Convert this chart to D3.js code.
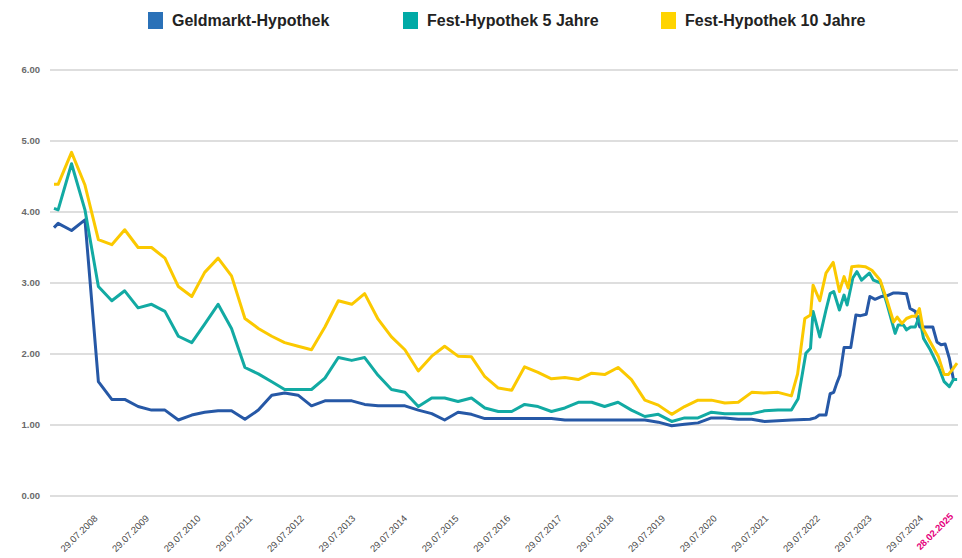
<!DOCTYPE html>
<html>
<head>
<meta charset="utf-8">
<script src="https://cdn.jsdelivr.net/npm/d3@7"></script>
<style>
  html, body { margin: 0; padding: 0; background: #fff; }
  svg { display: block; }
</style>
</head>
<body>
<svg id="chart" width="962" height="558"></svg>
<script>
// ---- DATA ----
const seriesNames = ["Geldmarkt-Hypothek", "Fest-Hypothek 5 Jahre", "Fest-Hypothek 10 Jahre"];
const yTickValues = [0, 1, 2, 3, 4, 5, 6];
const xTickLabels = ["29.07.2008","29.07.2009","29.07.2010","29.07.2011","29.07.2012","29.07.2013",
  "29.07.2014","29.07.2015","29.07.2016","29.07.2017","29.07.2018","29.07.2019","29.07.2020",
  "29.07.2021","29.07.2022","29.07.2023","29.07.2024","28.02.2025"];

// decimal years (quarterly observations until end of 2021)
const quarterYears = [2007.66, 2007.74, 2008.00, 2008.26, 2008.52, 2008.78, 2009.03, 2009.29, 2009.55, 2009.81,
  2010.07, 2010.33, 2010.58, 2010.84, 2011.10, 2011.36, 2011.62, 2011.88, 2012.13, 2012.39, 2012.65, 2012.91,
  2013.17, 2013.43, 2013.68, 2013.94, 2014.20, 2014.46, 2014.72, 2014.98, 2015.23, 2015.49, 2015.75, 2016.01,
  2016.27, 2016.53, 2016.78, 2017.04, 2017.30, 2017.56, 2017.82, 2018.08, 2018.33, 2018.59, 2018.85, 2019.11,
  2019.37, 2019.63, 2019.88, 2020.14, 2020.40, 2020.66, 2020.92, 2021.18, 2021.43, 2021.69, 2021.95];

const geldQuarter = [3.78, 3.84, 3.74, 3.89, 1.61, 1.36, 1.36, 1.26, 1.21, 1.21, 1.07, 1.14, 1.18, 1.20, 1.20,
  1.08, 1.21, 1.42, 1.45, 1.42, 1.27, 1.34, 1.34, 1.34, 1.29, 1.27, 1.27, 1.27, 1.21, 1.16, 1.07, 1.18, 1.15,
  1.09, 1.09, 1.09, 1.09, 1.09, 1.09, 1.07, 1.07, 1.07, 1.07, 1.07, 1.07, 1.07, 1.04, 0.99, 1.01, 1.03, 1.10,
  1.10, 1.08, 1.08, 1.05, 1.06, 1.07];
const fest5Quarter = [4.05, 4.03, 4.68, 4.03, 2.95, 2.75, 2.89, 2.65, 2.70, 2.60, 2.25, 2.16, 2.42, 2.70, 2.36,
  1.81, 1.72, 1.61, 1.50, 1.50, 1.50, 1.66, 1.95, 1.91, 1.95, 1.70, 1.50, 1.46, 1.26, 1.38, 1.38, 1.33, 1.38,
  1.24, 1.19, 1.19, 1.29, 1.26, 1.19, 1.24, 1.32, 1.32, 1.26, 1.32, 1.21, 1.12, 1.15, 1.05, 1.10, 1.10, 1.18,
  1.16, 1.16, 1.16, 1.20, 1.21, 1.21];
const fest10Quarter = [4.39, 4.39, 4.84, 4.38, 3.61, 3.54, 3.75, 3.50, 3.50, 3.35, 2.95, 2.81, 3.15, 3.35, 3.10,
  2.50, 2.36, 2.25, 2.16, 2.11, 2.06, 2.38, 2.75, 2.70, 2.85, 2.49, 2.24, 2.06, 1.76, 1.97, 2.11, 1.97, 1.96,
  1.68, 1.52, 1.49, 1.82, 1.74, 1.65, 1.67, 1.64, 1.73, 1.71, 1.81, 1.64, 1.35, 1.28, 1.15, 1.26, 1.35, 1.35,
  1.31, 1.32, 1.46, 1.45, 1.46, 1.41];

// denser observations from 2022 on: [decimal year, rate]
const geldRecent = [[2022.31,1.08],[2022.41,1.10],[2022.49,1.14],[2022.62,1.14],[2022.70,1.44],[2022.77,1.46],
  [2022.83,1.59],[2022.89,1.70],[2022.97,2.09],[2023.10,2.09],[2023.20,2.55],[2023.29,2.54],[2023.40,2.56],
  [2023.47,2.81],[2023.57,2.77],[2023.70,2.81],[2023.80,2.82],[2023.93,2.86],[2024.02,2.86],[2024.18,2.85],
  [2024.25,2.64],[2024.35,2.60],[2024.44,2.38],[2024.57,2.38],[2024.69,2.38],[2024.77,2.17],[2024.85,2.13],
  [2024.93,2.14],[2025.01,1.94],[2025.09,1.64],[2025.16,1.64]];
const fest5Recent = [[2022.08,1.37],[2022.23,2.01],[2022.32,2.08],[2022.37,2.60],[2022.50,2.24],[2022.62,2.62],
  [2022.70,2.85],[2022.77,2.88],[2022.88,2.62],[2022.97,2.83],[2023.03,2.69],[2023.14,3.07],[2023.22,3.16],
  [2023.31,3.04],[2023.46,3.14],[2023.54,3.04],[2023.68,3.00],[2023.80,2.71],[2023.96,2.29],[2024.02,2.41],
  [2024.12,2.41],[2024.18,2.34],[2024.26,2.38],[2024.35,2.38],[2024.43,2.53],[2024.51,2.22],[2024.64,2.06],
  [2024.80,1.82],[2024.91,1.61],[2025.01,1.54],[2025.09,1.64],[2025.16,1.64]];
const fest10Recent = [[2022.07,1.72],[2022.21,2.50],[2022.32,2.55],[2022.37,2.97],[2022.50,2.75],[2022.62,3.14],
  [2022.76,3.29],[2022.88,2.88],[2022.97,3.09],[2023.05,2.93],[2023.12,3.23],[2023.25,3.24],[2023.38,3.23],
  [2023.51,3.18],[2023.67,3.04],[2023.80,2.76],[2023.93,2.45],[2024.00,2.52],[2024.09,2.43],[2024.18,2.50],
  [2024.28,2.53],[2024.36,2.53],[2024.43,2.64],[2024.50,2.36],[2024.64,2.17],[2024.80,1.96],[2024.91,1.71],
  [2024.99,1.71],[2025.09,1.80],[2025.16,1.87]];

const lineColors = ["#2658a6", "#12aaa3", "#fbc900"];
const legendColors = ["#2a71b8", "#00aaa6", "#ffd400"];

// ---- BUILD ----
const toPoints = (vals, recent) => quarterYears.map((y, i) => [y, vals[i]]).concat(recent);
const series = [
  toPoints(geldQuarter, geldRecent),
  toPoints(fest5Quarter, fest5Recent),
  toPoints(fest10Quarter, fest10Recent)
];

const parse = d3.timeParse("%d.%m.%Y");
function decimalYear(str) {
  const d = parse(str);
  const yr = d.getFullYear();
  const a = new Date(yr, 0, 1), b = new Date(yr + 1, 0, 1);
  return yr + (d - a) / (b - a);
}

const svg = d3.select("#chart");
const plotLeft = 50, plotRight = 958;

const x = d3.scaleLinear().domain([2007.66, decimalYear("28.02.2025")]).range([54, 957]);
const y = d3.scaleLinear().domain([0, 6]).range([496, 70]);

// grid
svg.append("g").selectAll("line").data(yTickValues).join("line")
  .attr("x1", plotLeft).attr("x2", plotRight)
  .attr("y1", d => y(d)).attr("y2", d => y(d))
  .attr("stroke", "#d3d3d3").attr("stroke-width", 1.5);

// y labels
svg.append("g").selectAll("text").data(yTickValues).join("text")
  .attr("x", 40).attr("y", d => y(d)).attr("dy", "0.35em")
  .attr("text-anchor", "end")
  .attr("font-family", "'Liberation Sans', Arial, sans-serif")
  .attr("font-size", 9.5).attr("font-weight", "bold").attr("fill", "#6a6a6a")
  .text(d => d3.format(".2f")(d));

// x labels
const lastIdx = xTickLabels.length - 1;
svg.append("g").selectAll("text").data(xTickLabels).join("text")
  .attr("transform", (d, i) => `translate(${x(decimalYear(d)) - 3},${i === lastIdx ? 517 : 519}) rotate(-45)`)
  .attr("text-anchor", "end")
  .attr("font-family", "'Liberation Sans', Arial, sans-serif")
  .attr("font-size", 9.5)
  .attr("font-weight", (d, i) => i === lastIdx ? "bold" : "normal")
  .attr("fill", (d, i) => i === lastIdx ? "#e5007d" : "#4a4a4a")
  .text(d => d);

// lines
const line = d3.line().x(d => x(d[0])).y(d => y(d[1]));
svg.append("g").selectAll("path").data(series).join("path")
  .attr("d", line)
  .attr("fill", "none")
  .attr("stroke", (d, i) => lineColors[i])
  .attr("stroke-width", 3)
  .attr("stroke-linejoin", "round");

// legend
const legendX = [148, 403, 661];
const lg = svg.append("g").selectAll("g").data(seriesNames).join("g")
  .attr("transform", (d, i) => `translate(${legendX[i]},12)`);
lg.append("rect").attr("width", 15).attr("height", 17)
  .attr("fill", (d, i) => legendColors[i]);
lg.append("text").attr("x", 24).attr("y", 14)
  .attr("font-family", "'Liberation Sans', Arial, sans-serif")
  .attr("font-size", 16).attr("font-weight", "bold").attr("fill", "#222")
  .text(d => d);
</script>
</body>
</html>
